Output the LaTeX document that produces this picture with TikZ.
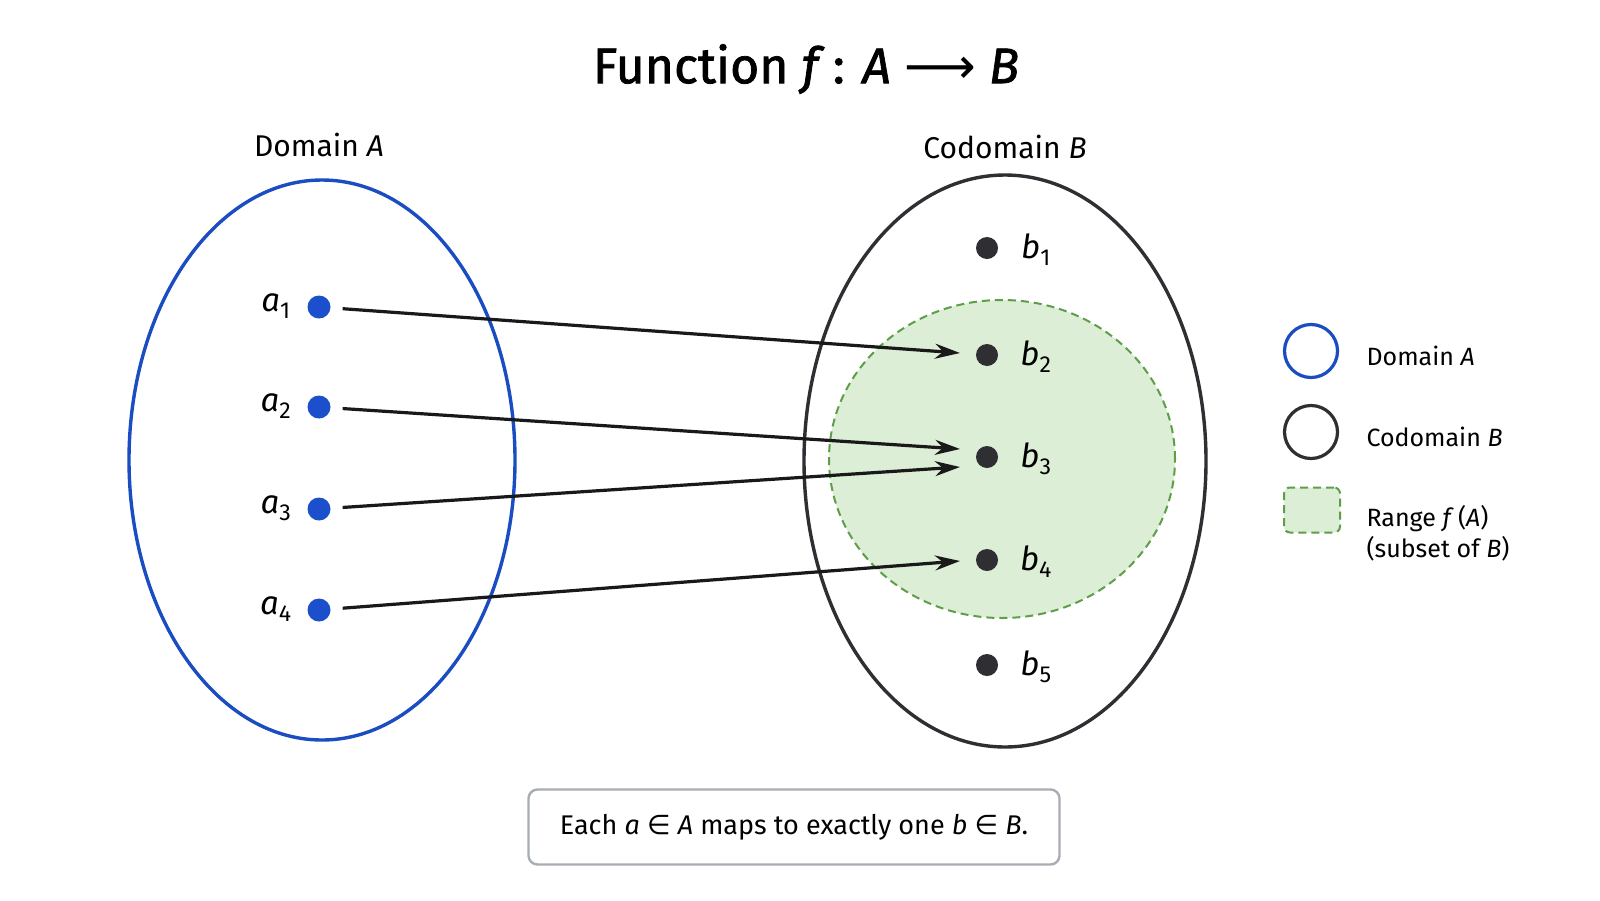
\documentclass[tikz,border=0pt]{standalone}
\usepackage{fontspec}
\setmainfont{Fira Sans}
\newfontfamily\symfont{DejaVu Sans}
\newfontfamily\titlefont[FakeBold=1.5]{Fira Sans}
\usetikzlibrary{shapes.geometric,arrows.meta}
\definecolor{domblue}{HTML}{1A4CC2}
\definecolor{dotblue}{HTML}{1B4FCC}
\definecolor{codark}{HTML}{2E2E33}
\definecolor{rgfill}{HTML}{DDEED6}
\definecolor{rgline}{HTML}{5E9E48}
\definecolor{boxline}{HTML}{A8ADB5}
\newcommand{\elem}{{\symfont\char"2208}}
\begin{document}
\begin{tikzpicture}[x=1pt,y=-1pt,
  setA/.style={ellipse,draw=domblue,line width=3.4pt,inner sep=0pt},
  setB/.style={ellipse,draw=codark,line width=3.4pt,inner sep=0pt},
  rangeset/.style={ellipse,fill=rgfill,draw=rgline,line width=2pt,dash pattern=on 8pt off 5pt,inner sep=0pt},
  adot/.style={circle,fill=dotblue,minimum size=23pt,inner sep=0pt},
  bdot/.style={circle,fill=codark,minimum size=22pt,inner sep=0pt},
  lab/.style={font=\fontsize{33}{36}\selectfont},
  setlab/.style={font=\fontsize{30}{34}\selectfont},
  leg/.style={font=\fontsize{25}{31}\selectfont,anchor=west,align=left},
  maparrow/.style={draw=black!90,line width=3.2pt,-{Stealth[length=25pt,width=15pt]},shorten <=12pt}
]
\useasboundingbox[fill=white] (0,0) rectangle (1600,900);
% title
\node[font=\titlefont\fontsize{50}{56}\selectfont] (title) at (806,69)
  {Function \textit{f}\,: \textit{A} {\symfont\char"27F6} \textit{B}};
% sets
\node[rangeset,minimum width=346pt,minimum height=318pt] (R) at (1002,459) {};
\node[setA,minimum width=386pt,minimum height=560pt] (A) at (322,460) {};
\node[setB,minimum width=402pt,minimum height=572pt] (B) at (1005,461) {};
\node[setlab] (Alab) at (319,145) {Domain \textit{A}};
\node[setlab] (Blab) at (1005,147) {Codomain \textit{B}};
% domain points
\foreach \i/\y in {1/307,2/407,3/509,4/610}{
  \node[adot] (a\i) at (319,\y) {};
  \node[lab] (al\i) at (276,\y-1) {\textit{a}\textsubscript{\i}};
}
% codomain points
\foreach \i/\y in {1/248,2/355,3/457,4/560,5/665}{
  \node[bdot] (b\i) at (987,\y) {};
  \node[lab] (bl\i) at (1036,\y+2) {\textit{b}\textsubscript{\i}};
}
% arrow targets
\coordinate (t2) at (960,353);
\coordinate (t3u) at (960,449);
\coordinate (t3d) at (960,467);
\coordinate (t4) at (960,561);
\draw[maparrow] (a1) -- (t2);
\draw[maparrow] (a2) -- (t3u);
\draw[maparrow] (a3) -- (t3d);
\draw[maparrow] (a4) -- (t4);
% legend
\node[circle,draw=domblue,line width=3.2pt,minimum size=53pt,inner sep=0pt] (lgA) at (1311,351) {};
\node[circle,draw=codark,line width=3.2pt,minimum size=53pt,inner sep=0pt] (lgB) at (1311,432) {};
\node[rectangle,rounded corners=6pt,fill=rgfill,draw=rgline,line width=2pt,dash pattern=on 8pt off 5pt,minimum width=56pt,minimum height=45pt,inner sep=0pt] (lgR) at (1312,510) {};
\node[leg] (lgAt) at (1363,356) {Domain \textit{A}};
\node[leg] (lgBt) at (1363,437) {Codomain \textit{B}};
\node[leg] (lgRt) at (1363,533) {Range \textit{f}\,(\textit{A})\\(subset of \textit{B})};
% note box
\node[draw=boxline,line width=2.4pt,rounded corners=9pt,minimum width=531pt,minimum height=75pt,font=\fontsize{27}{32}\selectfont] (note) at (794,827)
  {Each \textit{a} \elem{} \textit{A} maps to exactly one \textit{b} \elem{} \textit{B}.};
\end{tikzpicture}
\end{document}
